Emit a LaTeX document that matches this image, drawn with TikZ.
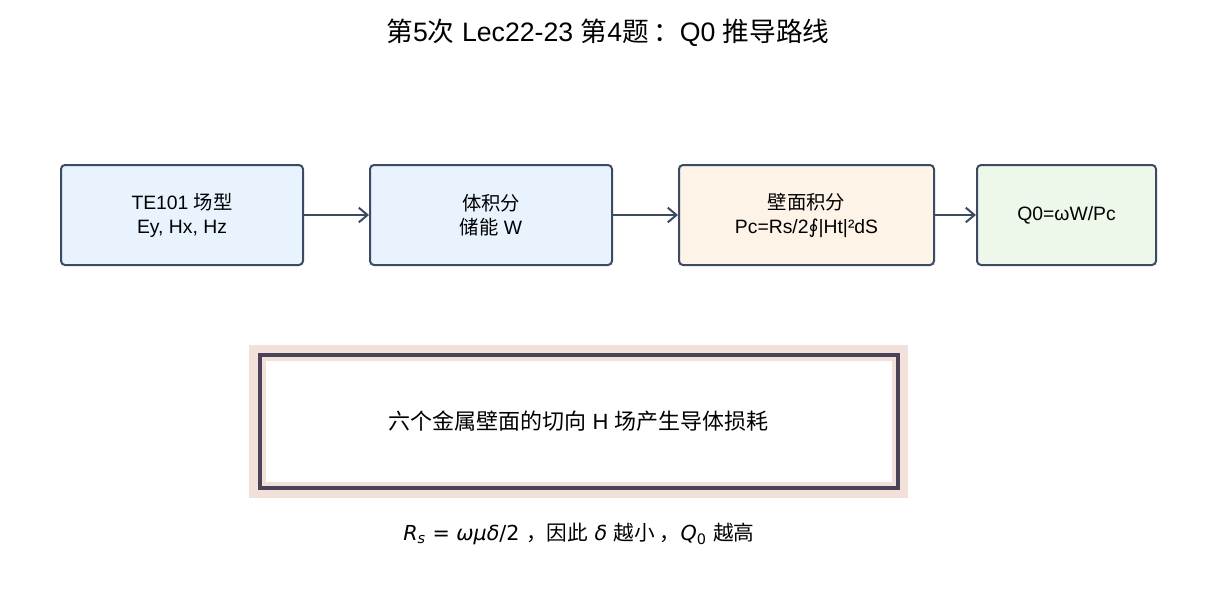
\documentclass[tikz,border=0pt]{standalone}
\usepackage{fontspec}
\setmainfont{Liberation Sans}
\newfontfamily\cjk{Noto Sans CJK SC}
\newfontfamily\symfont{DejaVu Sans}
\usepackage{tikz}
\usetikzlibrary{positioning,arrows.meta}

\definecolor{boxline}{HTML}{3C4A64}
\definecolor{bluefill}{HTML}{E8F3FD}
\definecolor{orangefill}{HTML}{FDF3E6}
\definecolor{greenfill}{HTML}{EDF7EA}
\definecolor{pinkband}{HTML}{F2E1DA}
\definecolor{darkframe}{HTML}{4A4256}

\begin{document}
\begin{tikzpicture}[
x=0.75pt,
y=-0.75pt,
font=\fontsize{14.5}{18}\selectfont,
box/.style={
draw=boxline,
line width=1.5pt,
rounded corners=3pt,
align=center,
minimum width=181.5pt,
minimum height=75pt
},
arrow/.style={
-{Straight Barb[length=6.5pt,width=11pt,line width=1.5pt]},
line width=1.5pt,
draw=boxline
}
]

\useasboundingbox (0,0) rectangle (1216,592);

% Title

\node (title) at (608,33)
{\fontsize{20}{24}\selectfont {\cjk 第}5{\cjk 次} Lec22-23 {\cjk 第}4{\cjk 题}\,{\cjk ：}Q0 {\cjk 推导路线}};


% Derivation chain

\node (mode) [box, fill=bluefill] at (182,215)
{TE101 {\cjk 场型}\\Ey, Hx, Hz};

\node (energy) [box, fill=bluefill, right=48.75pt of mode]
{{\cjk 体积分}\\{\cjk 储能} W};

\node (wallloss) [box, fill=orangefill, minimum width=191.25pt, right=48.75pt of energy]
{{\cjk 壁面积分}\\Pc=Rs/2{\symfont ∮}|Ht|²dS};

\node (quality) [box, fill=greenfill, minimum width=134.25pt, right=30.75pt of wallloss]
{Q0=ωW/Pc};


\draw[arrow] (mode) -- (energy);
\draw[arrow] (energy) -- (wallloss);
\draw[arrow] (wallloss) -- (quality);


% Loss note

\node (lossouter) [fill=pinkband, minimum width=494.25pt, minimum height=114.75pt] at (578.5,421.5) {};

\node (lossframe) [draw=darkframe, line width=3pt, minimum width=478.5pt, minimum height=99.75pt] at (lossouter) {};

\node (loss) [fill=white, minimum width=469.5pt, minimum height=90.75pt, font=\fontsize{16.5}{20}\selectfont] at (lossouter)
{{\cjk 六个金属壁面的切向} H {\cjk 场产生导体损耗}};


% Caption

\node (caption) [font=\fontsize{15.5}{19}\selectfont\symfont] at (579,534)
{\textit{R}\textsubscript{\textit{s}} = \textit{ωμδ}/2 {\cjk ，因此} \textit{δ} {\cjk 越小 ，}\textit{Q}\textsubscript{0} {\cjk 越高}};


\end{tikzpicture}
\end{document}
